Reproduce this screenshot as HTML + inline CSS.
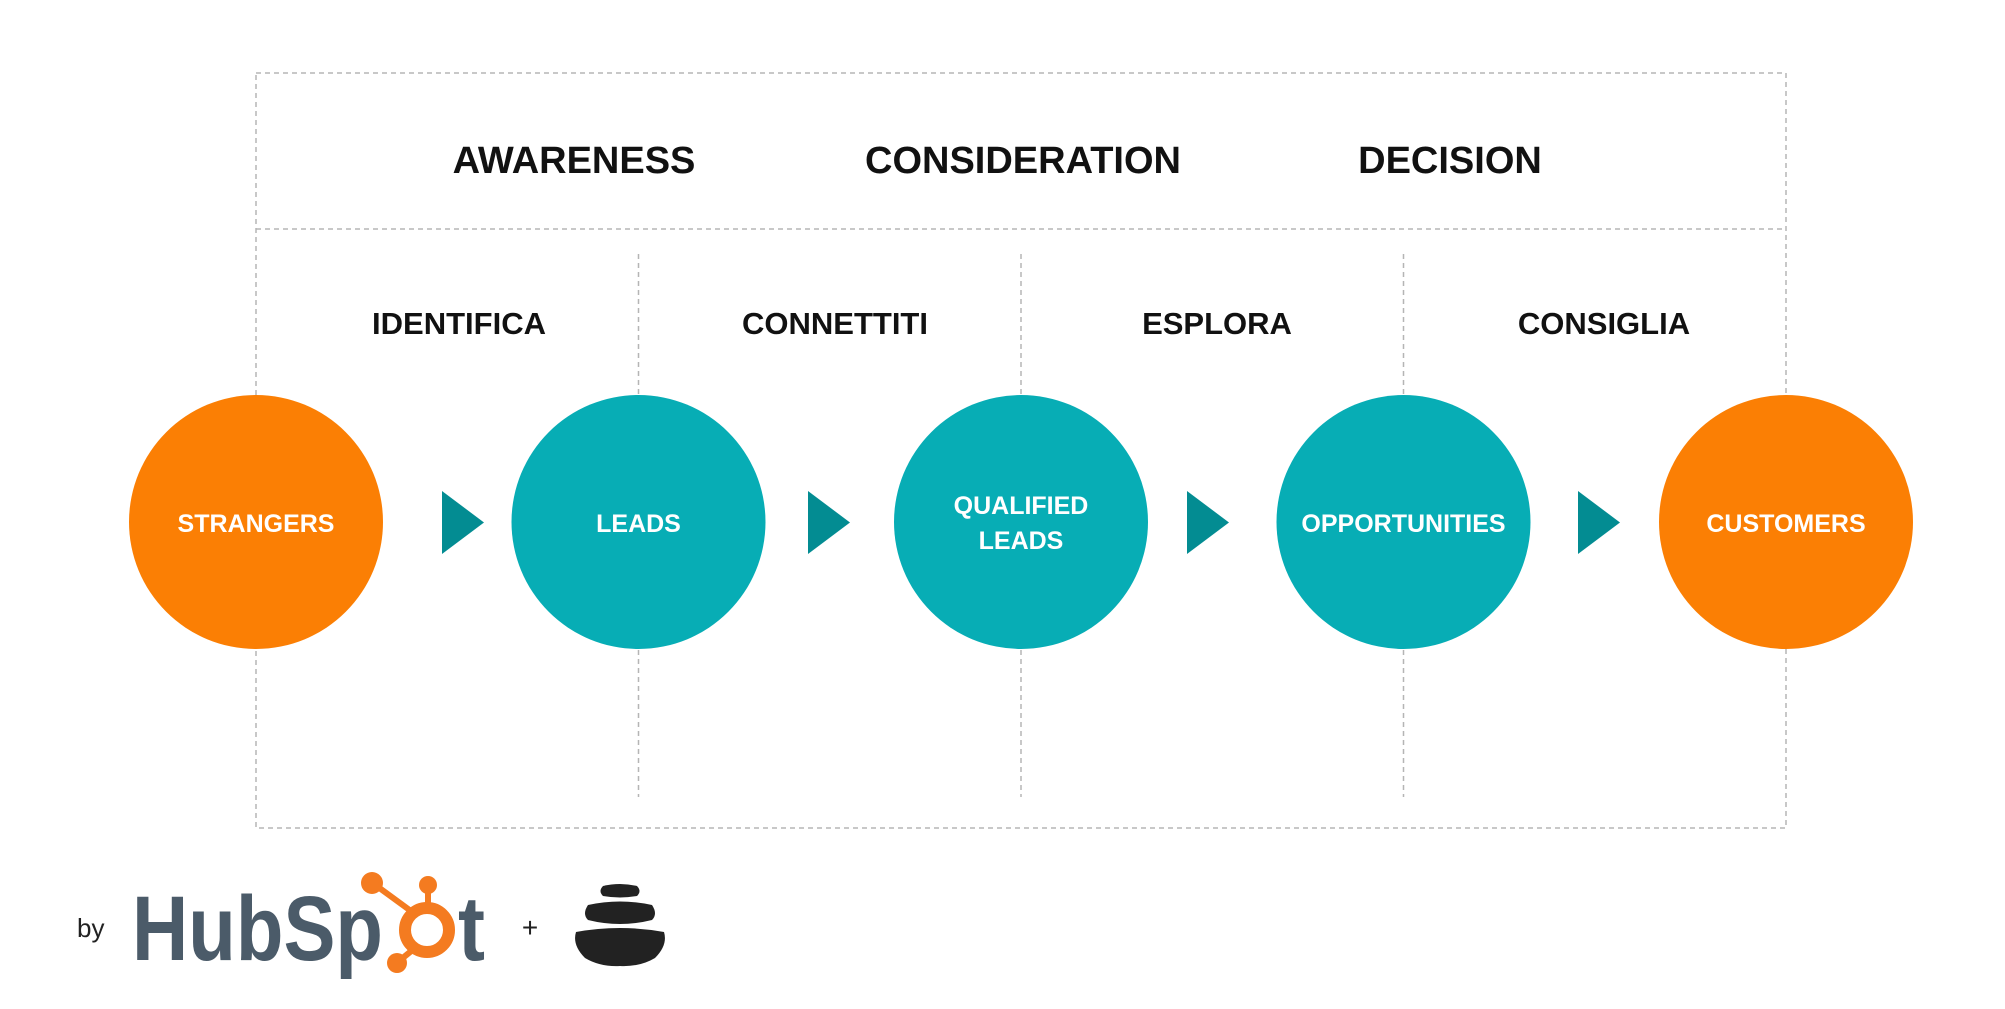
<!DOCTYPE html>
<html><head><meta charset="utf-8"><style>
html,body{margin:0;padding:0;background:#fff;}
svg{display:block;}
text{font-family:"Liberation Sans",sans-serif;}
</style></head><body>
<svg width="2005" height="1009" viewBox="0 0 2005 1009" xmlns="http://www.w3.org/2000/svg">
<g stroke="#b5b5b5" stroke-width="1.5" stroke-dasharray="5,4" fill="none">
<rect x="256" y="73" width="1530" height="755"/>
<line x1="256" y1="229" x2="1786" y2="229"/>
<line x1="638.5" y1="254" x2="638.5" y2="797"/>
<line x1="1021" y1="254" x2="1021" y2="797"/>
<line x1="1403.5" y1="254" x2="1403.5" y2="797"/>
</g>
<g font-weight="bold" font-size="38" fill="#111" text-anchor="middle">
<text x="574" y="173">AWARENESS</text>
<text x="1023" y="173">CONSIDERATION</text>
<text x="1450" y="173">DECISION</text>
</g>
<g font-weight="bold" font-size="31" fill="#111" text-anchor="middle">
<text x="459" y="334">IDENTIFICA</text>
<text x="835" y="334">CONNETTITI</text>
<text x="1217" y="334">ESPLORA</text>
<text x="1604" y="334">CONSIGLIA</text>
</g>
<circle cx="256" cy="522" r="127" fill="#fb7f04"/>
<circle cx="638.5" cy="522" r="127" fill="#07adb5"/>
<circle cx="1021" cy="522" r="127" fill="#07adb5"/>
<circle cx="1403.5" cy="522" r="127" fill="#07adb5"/>
<circle cx="1786" cy="522" r="127" fill="#fb7f04"/>
<g fill="#038c92">
<polygon points="442,491 484,522.5 442,554"/>
<polygon points="808,491 850,522.5 808,554"/>
<polygon points="1187,491 1229,522.5 1187,554"/>
<polygon points="1578,491 1620,522.5 1578,554"/>
</g>
<g font-size="25" fill="#fff" text-anchor="middle" font-weight="bold">
<text x="256" y="532">STRANGERS</text>
<text x="638.5" y="532">LEADS</text>
<text x="1021" y="514">QUALIFIED</text>
<text x="1021" y="549">LEADS</text>
<text x="1403.5" y="532">OPPORTUNITIES</text>
<text x="1786" y="532">CUSTOMERS</text>
</g>
<text x="77" y="937" font-size="26" fill="#222">by</text>
<text x="132" y="960" font-size="92" font-weight="bold" fill="#4b5b69" textLength="251" lengthAdjust="spacingAndGlyphs">HubSp</text>
<g fill="#f47b20" stroke="#f47b20">
<circle cx="427" cy="930" r="22" fill="none" stroke-width="12"/>
<line x1="415" y1="914" x2="374" y2="884" stroke-width="6"/>
<circle cx="372" cy="883" r="11" stroke="none"/>
<line x1="428" y1="908" x2="428" y2="888" stroke-width="6"/>
<circle cx="428" cy="885" r="9" stroke="none"/>
<line x1="415" y1="948" x2="399" y2="961" stroke-width="6"/>
<circle cx="397" cy="963" r="10" stroke="none"/>
</g>
<text x="458" y="960" font-size="92" font-weight="bold" fill="#4b5b69" textLength="27" lengthAdjust="spacingAndGlyphs">t</text>
<text x="530" y="937" font-size="28" fill="#222" text-anchor="middle">+</text>
<g fill="#222">
<path d="M603,886 Q620,882 637,886 Q642,891 637,896 Q620,899 603,896 Q598,891 603,886 Z"/>
<path d="M588,905 Q620,898 652,905 Q658,914 652,920 Q620,928 588,920 Q582,914 588,905 Z"/>
<path d="M576,932 Q620,924 664,932 Q668,945 655,958 Q640,967 620,966 Q600,967 585,958 Q572,945 576,932 Z"/>
</g>
</svg>
</body></html>
